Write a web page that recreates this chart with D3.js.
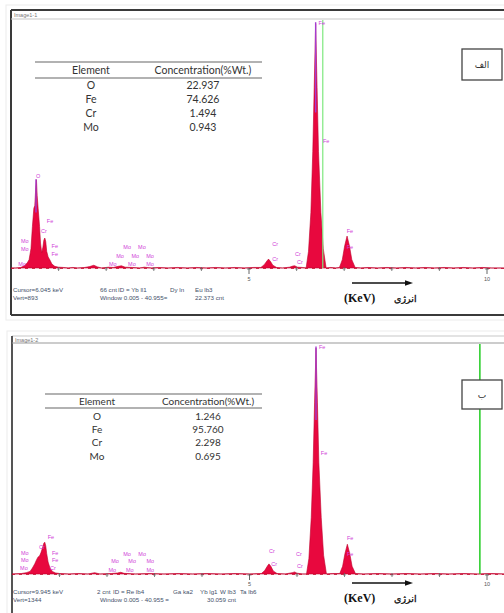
<!DOCTYPE html>
<html><head><meta charset="utf-8">
<script src="https://cdn.jsdelivr.net/npm/d3@7"></script>
<style>body{margin:0;background:#fff;} svg{display:block;}</style>
</head><body>
<svg id="c" width="504" height="613"></svg>
<script>
// ---------------- DATA ----------------
const elements = ["O", "Fe", "Cr", "Mo"];
const concA = ["22.937", "74.626", "1.494", "0.943"];
const concB = ["1.246", "95.760", "2.298", "0.695"];
const tableHeader = ["Element", "Concentration(%Wt.)"];

const xMajorTicks = [5, 10];
const xMinorTicks = [1, 2, 3, 4, 6, 7, 8, 9];

// Spectrum A (Image1-1), energy in keV, counts
const energyA = [0.00,0.10,0.20,0.26,0.30,0.34,0.38,0.42,0.45,0.48,0.50,0.52,0.535,0.55,0.57,0.60,0.62,0.645,0.67,0.69,0.71,0.73,0.75,0.78,0.82,0.86,0.92,1.00,1.10,1.20,1.30,1.40,1.55,1.65,1.74,1.82,1.90,2.05,2.15,2.25,2.32,2.40,2.55,2.70,2.80,2.95,3.10,3.30,3.50,3.70,3.90,4.10,4.30,4.50,4.70,4.90,5.10,5.25,5.32,5.38,5.41,5.45,5.50,5.58,5.70,5.85,5.92,5.96,6.02,6.12,6.20,6.25,6.30,6.34,6.37,6.40,6.43,6.46,6.51,6.56,6.62,6.72,6.82,6.90,6.96,7.01,7.06,7.11,7.16,7.23,7.35,7.50,7.70,7.90,8.10,8.30,8.50,8.70,8.90,9.10,9.30,9.50,9.70,9.90,10.10,10.40];
const countsA = [0,0,2,6,12,18,30,70,150,215,225,290,318,260,215,150,90,55,75,100,108,95,60,40,28,14,6,3,2,0,2,0,2,5,10,4,0,3,2,6,8,3,2,0,3,0,2,0,2,0,2,0,2,0,2,0,2,2,12,26,32,24,10,2,0,3,7,8,3,2,0,60,200,420,650,880,650,420,200,70,0,2,0,2,30,80,115,80,30,2,0,2,0,2,0,2,0,2,0,2,0,2,0,2,0,0];

// Spectrum B (Image1-2)
const energyB = [0.00,0.20,0.30,0.38,0.43,0.48,0.52,0.55,0.58,0.61,0.64,0.67,0.69,0.71,0.73,0.76,0.80,0.85,0.92,1.00,1.20,1.40,1.60,1.74,1.85,2.10,2.22,2.29,2.36,2.60,2.90,3.20,3.50,3.80,4.10,4.40,4.70,5.00,5.25,5.32,5.38,5.41,5.45,5.50,5.58,5.75,5.90,5.95,6.00,6.12,6.20,6.25,6.30,6.34,6.37,6.40,6.43,6.46,6.51,6.56,6.62,6.75,6.90,6.96,7.01,7.06,7.11,7.16,7.23,7.40,7.70,8.00,8.30,8.60,8.90,9.20,9.50,9.80,10.10,10.40];
const countsB = [0,3,8,15,35,60,85,100,105,125,150,180,186,165,120,70,35,15,6,3,0,3,0,8,0,3,6,10,4,0,3,0,3,0,3,0,3,0,3,20,48,59,45,18,3,0,8,12,5,0,0,90,330,650,1000,1320,1000,650,330,110,0,3,3,45,120,174,120,45,3,0,3,0,3,0,3,0,3,0,3,0];

// element marker labels: [text, keV, counts]
const labelsA = [["O",0.57,331],["Fe",0.82,166],["Cr",0.69,130],["Mo",0.29,97],["Mo",0.29,68],["Fe",0.92,76],["Fe",0.92,50],["Mo",0.23,14],
  ["Mo",2.44,72],["Mo",2.75,72],["Mo",2.29,43],["Mo",2.61,43],["Mo",2.92,43],["Mo",2.14,14],["Mo",2.54,14],["Mo",2.92,14],
  ["Cr",5.55,83],["Cr",5.55,29],["Cr",6.03,47],["Cr",6.07,18],["Fe",6.53,882],["Fe",6.62,454],["Fe",7.12,133],["Fe",7.12,72]];
const labelsB = [["Fe",0.82,215],["Cr",0.63,157],["Mo",0.27,122],["Mo",0.27,76],["Fe",0.91,122],["Fe",0.91,76],["Mo",0.25,29],["Cr",0.86,29],
  ["Mo",2.42,116],["Mo",2.74,116],["Mo",2.17,70],["Mo",2.53,70],["Mo",2.91,70],["Mo",2.11,23],["Mo",2.48,23],["Mo",2.91,23],
  ["Cr",5.47,134],["Cr",5.52,58],["Cr",6.04,116],["Cr",6.06,41],["Fe",6.53,1321],["Fe",6.57,704],["Fe",7.12,210],["Fe",7.12,116]];

// purple KLM marker segments: [keV, fromCounts, toCounts]
const markersA = [[0.525, 200, 320], [6.40, 560, 885]];
const markersB = [[6.40, 900, 1330]];

const vertA = 893, vertB = 1344;
const cursorA = ["Cursor=6.045 keV", "66 cnt", "ID = Yb ll1", "Dy ln", "Eu lb3"];
const statusA = ["Vert=893", "Window 0.005 - 40.955=", "22.373 cnt"];
const cursorB = ["Cursor=9.945 keV", "2 cnt", "ID = Re lb4", "Ga ka2", "Yb lg1", "W lb3", "Ta lb6"];
const statusB = ["Vert=1344", "Window 0.005 - 40.955 =", "30.059 cnt"];
const greenA = 6.55, greenB = 9.85;

// ---------------- LAYOUT ----------------
const panels = [
  {title:"Image1-1", frameTop:10, left:11, frameBottom:315, sep:19, plotTop:20, base:268, x0:11, x10:487,
   vert:vertA, energy:energyA, counts:countsA, labels:labelsA, markers:markersA, conc:concA,
   tLine:62, tLeft:35, tRight:262, hY:71, hLine:78, rY0:86, rStep:14.1, tFont:10.5,
   box:{x:462,y:49,w:40,h:31,t:"الف"}, cursor:cursorA, cursorX:[13,100,118,170,195], status:statusA, statusX:[13,100,195],
   cY:290, sY:298, green:greenA, greenColor:"#7ee87e", tickY:280, arrowY:283, kevY:299},
  {title:"Image1-2", frameTop:336, left:12, frameBottom:640, sep:343, plotTop:344, base:574, x0:12, x10:487,
   vert:vertB, energy:energyB, counts:countsB, labels:labelsB, markers:markersB, conc:concB,
   tLine:394, tLeft:45, tRight:262, hY:402, hLine:408, rY0:417, rStep:13.4, tFont:10,
   box:{x:462,y:380,w:40,h:29,t:"ب"}, cursor:cursorB, cursorX:[13,97,113,173,200,220,240], status:statusB, statusX:[13,100,207],
   cY:592, sY:600, green:greenB, greenColor:"#22cc22", tickY:585, arrowY:583, kevY:599}
];

const svg = d3.select("#c");

panels.forEach((p, pi) => {
  const g = svg.append("g");
  const x = d3.scaleLinear().domain([0, 10]).range([p.x0, p.x10]);
  const y = d3.scaleLinear().domain([0, p.vert]).range([p.base, p.plotTop]);

  // faint outer border
  g.append("rect").attr("x", p.left - 5).attr("y", p.frameTop - 5).attr("width", 520).attr("height", p.frameBottom - p.frameTop + 10)
    .attr("fill", "none").attr("stroke", "#ececec").attr("stroke-width", 1);
  // frame
  const dark = pi === 0 ? "#3a3a3a" : "#555";
  g.append("line").attr("x1", p.left).attr("x2", 504).attr("y1", p.frameTop).attr("y2", p.frameTop).attr("stroke", pi===0?"#3a3a3a":"#c8c8c8").attr("stroke-width", pi===0?2:1.2);
  g.append("line").attr("x1", p.left).attr("x2", p.left).attr("y1", p.frameTop).attr("y2", p.frameBottom).attr("stroke", dark).attr("stroke-width", 2);
  g.append("line").attr("x1", p.left).attr("x2", 504).attr("y1", p.frameBottom).attr("y2", p.frameBottom).attr("stroke", dark).attr("stroke-width", 2);
  g.append("line").attr("x1", p.left).attr("x2", 504).attr("y1", p.sep).attr("y2", p.sep).attr("stroke", pi===0?"#c8c8c8":"#999").attr("stroke-width", 1.2);
  g.append("text").attr("x", p.left + 3).attr("y", p.frameTop + (pi===0?6.5:6)).attr("font-family", "Liberation Sans").attr("font-size", 5.5)
    .attr("fill", "#777").text(p.title);

  // table
  const tg = g.append("g").attr("font-family", "Lato, 'Open Sans', sans-serif").attr("font-size", p.tFont).attr("fill", "#333");
  tg.append("line").attr("x1", p.tLeft).attr("x2", p.tRight).attr("y1", p.tLine).attr("y2", p.tLine).attr("stroke", "#999").attr("stroke-width", 1.3);
  tg.append("line").attr("x1", p.tLeft).attr("x2", p.tRight).attr("y1", p.hLine).attr("y2", p.hLine).attr("stroke", "#999").attr("stroke-width", 1.3);
  const c1 = p.tLeft + (pi===0 ? 56 : 52), c2 = p.tLeft + (pi===0 ? 168 : 163);
  tg.append("text").attr("x", c1).attr("y", p.hY).attr("text-anchor", "middle").attr("dominant-baseline", "middle").text(tableHeader[0]);
  tg.append("text").attr("x", c2).attr("y", p.hY).attr("text-anchor", "middle").attr("dominant-baseline", "middle").text(tableHeader[1]);
  elements.forEach((e, i) => {
    tg.append("text").attr("x", c1).attr("y", p.rY0 + i * p.rStep).attr("text-anchor", "middle").attr("dominant-baseline", "middle").text(e);
    tg.append("text").attr("x", c2).attr("y", p.rY0 + i * p.rStep).attr("text-anchor", "middle").attr("dominant-baseline", "middle").text(p.conc[i]);
  });

  // baseline
  g.append("line").attr("x1", p.x0).attr("x2", 504).attr("y1", p.base + 0.5).attr("y2", p.base + 0.5)
    .attr("stroke", "#c8102e").attr("stroke-width", 1).attr("stroke-dasharray", "3,4").attr("opacity", 0.8);

  // spectrum
  const pts = p.energy.map((e, i) => [e, p.counts[i]]);
  const area = d3.area().x(d => x(d[0])).y0(y(0)).y1(d => y(d[1]));
  const clipId = "clip" + pi;
  g.append("clipPath").attr("id", clipId).append("rect").attr("x", p.left).attr("y", p.plotTop).attr("width", 504 - p.left).attr("height", p.base - p.plotTop + 1);
  g.append("path").datum(pts).attr("d", area).attr("clip-path", `url(#${clipId})`)
    .attr("fill", "#e8083e").attr("stroke", "#c0002c").attr("stroke-width", 0.6);

  // marker lines
  p.markers.forEach(m => {
    g.append("line").attr("x1", x(m[0])).attr("x2", x(m[0])).attr("y1", y(m[1])).attr("y2", y(m[2]))
      .attr("stroke", "#a43cd0").attr("stroke-width", 1.4);
  });

  // green cursor line
  g.append("line").attr("x1", x(p.green)).attr("x2", x(p.green)).attr("y1", p.plotTop).attr("y2", p.base)
    .attr("stroke", p.greenColor).attr("stroke-width", pi===0?1.2:1.5);

  // box with Persian letter (drawn over the cursor line)
  g.append("rect").attr("x", p.box.x).attr("y", p.box.y).attr("width", p.box.w).attr("height", p.box.h)
    .attr("fill", "#fff").attr("stroke", "#444").attr("stroke-width", 1.3);
  g.append("text").attr("x", p.box.x + p.box.w / 2).attr("y", p.box.y + p.box.h / 2 + 1).attr("text-anchor", "middle")
    .attr("dominant-baseline", "middle").attr("font-family", "DejaVu Sans").attr("font-size", 9).attr("fill", "#333").text(p.box.t);

  // element labels
  g.append("g").selectAll("text").data(p.labels).join("text")
    .attr("x", d => x(d[1])).attr("y", d => y(d[2])).attr("text-anchor", "middle").attr("dominant-baseline", "middle")
    .attr("font-family", "Liberation Sans").attr("font-size", 5.5).attr("fill", "#d040d8").text(d => d[0]);

  // ticks
  xMinorTicks.forEach(t => {
    g.append("line").attr("x1", x(t)).attr("x2", x(t)).attr("y1", p.base - 1).attr("y2", p.base + 3).attr("stroke", "#666").attr("stroke-width", 0.8);
    g.append("line").attr("x1", x(t) - 1.5).attr("x2", x(t) + 1.5).attr("y1", p.base + 1).attr("y2", p.base + 1).attr("stroke", "#666").attr("stroke-width", 0.6);
  });
  xMajorTicks.forEach(t => {
    g.append("line").attr("x1", x(t)).attr("x2", x(t)).attr("y1", p.base).attr("y2", p.base + 6).attr("stroke", "#555").attr("stroke-width", 0.9);
    g.append("line").attr("x1", x(t) - 2).attr("x2", x(t) + 2).attr("y1", p.base + 1).attr("y2", p.base + 1).attr("stroke", "#555").attr("stroke-width", 0.7);
    g.append("text").attr("x", x(t)).attr("y", p.tickY).attr("text-anchor", "middle").attr("dominant-baseline", "middle")
      .attr("font-family", "Liberation Sans").attr("font-size", 5.5).attr("fill", "#555").text(t);
  });

  // status text
  const sg = g.append("g").attr("font-family", "Liberation Sans").attr("font-size", 6.2).attr("fill", "#44506a");
  p.cursor.forEach((t, i) => sg.append("text").attr("x", p.cursorX[i]).attr("y", p.cY).attr("dominant-baseline", "middle").text(t));
  p.status.forEach((t, i) => sg.append("text").attr("x", p.statusX[i]).attr("y", p.sY).attr("dominant-baseline", "middle").text(t));

  // arrow and axis title
  g.append("line").attr("x1", 352).attr("x2", 406).attr("y1", p.arrowY).attr("y2", p.arrowY).attr("stroke", "#111").attr("stroke-width", 1.4);
  g.append("path").attr("d", d3.line()([[405, p.arrowY - 2.8], [413, p.arrowY], [405, p.arrowY + 2.8]])).attr("fill", "#111");
  g.append("text").attr("x", 344).attr("y", p.kevY).attr("dominant-baseline", "middle").attr("font-family", "Liberation Serif")
    .attr("font-weight", "bold").attr("font-size", 12).attr("fill", "#111").text("(KeV)");
  g.append("text").attr("x", 394).attr("y", p.kevY).attr("dominant-baseline", "middle").attr("font-family", "DejaVu Sans")
    .attr("font-size", 9.5).attr("fill", "#111").attr("stroke", "#111").attr("stroke-width", 0.3).text("انرژی");
});
</script>
</body></html>
